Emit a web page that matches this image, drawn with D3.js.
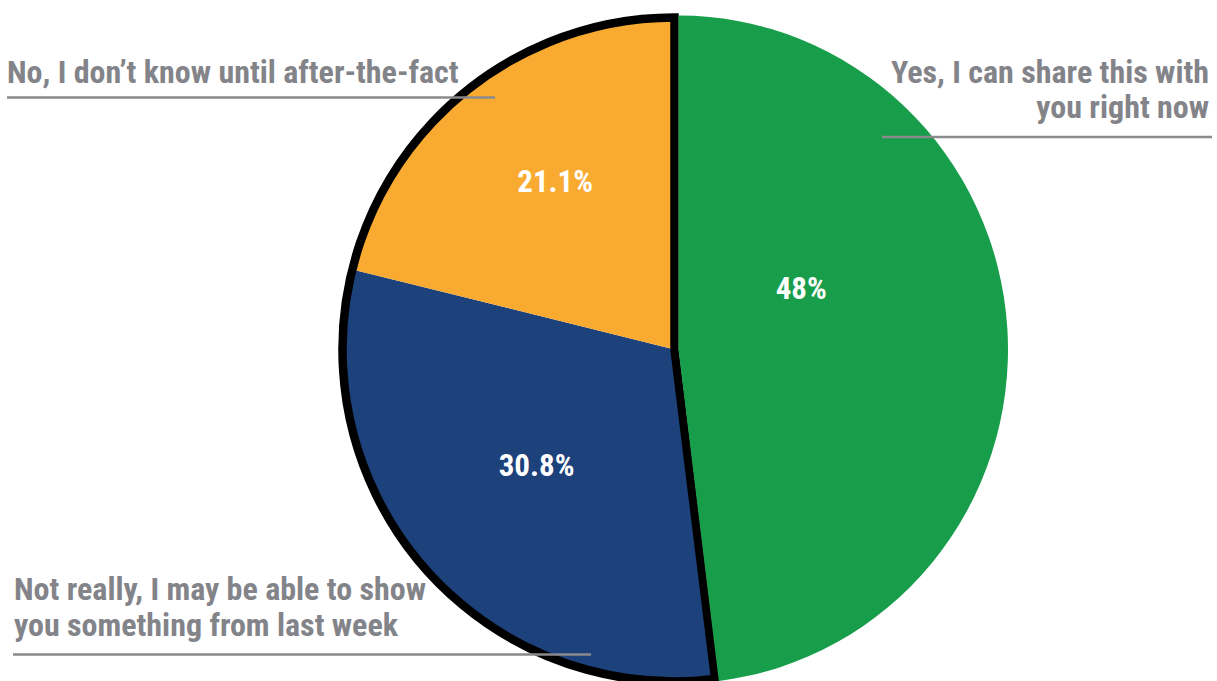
<!DOCTYPE html>
<html>
<head>
<meta charset="utf-8">
<script src="https://cdn.jsdelivr.net/npm/d3@7"></script>
<style>
  html, body { margin: 0; padding: 0; background: #ffffff; }
  svg { display: block; }
  text { font-family: "Liberation Sans Narrow", "Arial Narrow", "Roboto Condensed", sans-serif; font-weight: bold; }
</style>
</head>
<body>
<svg id="chart" width="1217" height="681"></svg>
<script>
// Survey answers, in clockwise order from 12 o'clock
const categories = [
  "Yes, I can share this with you right now",
  "Not really, I may be able to show you something from last week",
  "No, I don’t know until after-the-fact"
];
const values = [48, 30.8, 21.1];
const valueLabels = ["48%", "30.8%", "21.1%"];
const labelLines = [
  ["Yes, I can share this with", "you right now"],
  ["Not really, I may be able to show", "you something from last week"],
  ["No, I don’t know until after-the-fact"]
];

const colors = ["#189d4b", "#1c417b", "#f9aa31"];
const W = 1217, H = 681;
const svg = d3.select("#chart");

const cx = 674.5, cy = 349.5, R = 332;
const pie = d3.pie().sort(null).value(d => d).startAngle(0).endAngle(2 * Math.PI);
const arcs = pie(values);
const arc = d3.arc().innerRadius(0).outerRadius(R);

// Remaining answers share one outlined wedge
const rest = svg.append("g").attr("transform", `translate(${cx},${cy})`);
rest.selectAll("path.slice")
  .data(arcs.slice(1))
  .join("path")
  .attr("class", "slice")
  .attr("d", arc)
  .attr("fill", (d, i) => colors[i + 1]);
rest.append("path")
  .attr("d", arc({ startAngle: arcs[1].startAngle, endAngle: arcs[2].endAngle }))
  .attr("fill", "none")
  .attr("stroke", "#000")
  .attr("stroke-width", 8.5)
  .attr("stroke-linejoin", "miter");

// "Yes" slice pulled out slightly, no outline
const gx = 678.5, gy = 349.5, gR = 329.5;
const green = svg.append("g").attr("transform", `translate(${gx},${gy}) scale(1,1.0135)`);
green.append("path")
  .attr("d", d3.arc().innerRadius(0).outerRadius(gR)(arcs[0]))
  .attr("fill", colors[0]);

// Percentage labels placed by angle (deg, clockwise from top) and distance from the centre
const pctPlace = [[64, 141], [230, 180], [324.8, 207]];
svg.append("g").selectAll("text")
  .data(arcs)
  .join("text")
  .attr("x", (d, i) => cx + pctPlace[i][1] * Math.sin(pctPlace[i][0] * Math.PI / 180))
  .attr("y", (d, i) => cy - pctPlace[i][1] * Math.cos(pctPlace[i][0] * Math.PI / 180))
  .attr("dy", "0.36em")
  .attr("text-anchor", "middle")
  .attr("fill", "#ffffff")
  .attr("font-size", 31)
  .text((d, i) => valueLabels[i]);

// Category callouts with underline rules
const callouts = [
  { anchor: "end",   x: 1209, y: 83,  lh: 35, rule: [882, 1212, 137] },
  { anchor: "start", x: 14,   y: 600, lh: 36, rule: [13, 591, 654.5] },
  { anchor: "start", x: 7,    y: 83,  lh: 34, rule: [7, 495, 97.5] }
];
const cg = svg.append("g");
callouts.forEach((c, i) => {
  const t = cg.append("text")
    .attr("text-anchor", c.anchor)
    .attr("fill", "#838489")
    .attr("font-size", 32);
  labelLines[i].forEach((line, j) => {
    t.append("tspan").attr("x", c.x).attr("y", c.y + j * c.lh).text(line);
  });
  cg.append("line")
    .attr("x1", c.rule[0]).attr("x2", c.rule[1])
    .attr("y1", c.rule[2]).attr("y2", c.rule[2])
    .attr("stroke", "#8a8a8c")
    .attr("stroke-width", 2.5);
});
</script>
</body>
</html>
